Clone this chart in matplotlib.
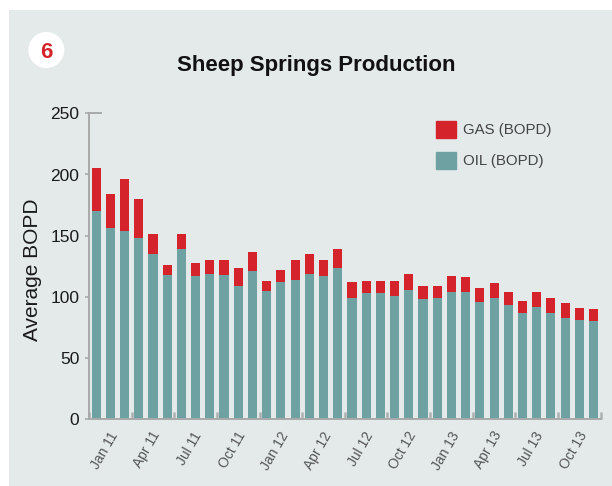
import numpy as np
import matplotlib
matplotlib.use("Agg")
import matplotlib.pyplot as plt
from matplotlib.patches import Rectangle, Ellipse, Patch
from matplotlib.lines import Line2D

plt.rcParams["font.family"] = ["Liberation Sans", "DejaVu Sans"]

# monthly production, Jan 2011 .. Dec 2013
months = [f"{m} {y}" for y in (11, 12, 13) for m in
          ["Jan", "Feb", "Mar", "Apr", "May", "Jun",
           "Jul", "Aug", "Sep", "Oct", "Nov", "Dec"]]
oil = [170, 156, 153.5, 148.5, 135, 117.5, 139.5, 117, 118.5, 117.5, 108.5, 121,
       104.5, 112, 113.5, 118.5, 117, 124, 99, 103, 103, 100.5, 105.5, 98,
       99.5, 104, 104, 95.5, 99, 93, 86.5, 91.5, 86.5, 82.5, 81, 80]
total = [205, 184, 196, 180, 151, 126, 151, 127.5, 130, 130.5, 124, 136.5,
         113, 122, 130, 135, 130.5, 139, 112, 113, 113, 113, 118.5, 108.5,
         108.5, 117, 116, 107, 111, 104, 97, 104, 99, 95, 91, 90]
gas = [t - o for t, o in zip(total, oil)]
quarter_labels = months[::3]

RED = "#d4232b"
TEAL = "#6ea2a2"
BG = "#e4eaea"
AXIS = "#a8aaaa"

W, H = 612, 486
fig = plt.figure(figsize=(W / 100, H / 100), dpi=100, facecolor="white")
fig.patches.append(Rectangle((9 / W, 0), 1, (H - 10) / H, transform=fig.transFigure,
                             facecolor=BG, edgecolor="none", zorder=-10))

ax = fig.add_axes([89 / W, (H - 419.3) / H, (600.7 - 89) / W, (419.3 - 113.3) / H])
ax.set_facecolor("none")

x = np.arange(len(months))
ax.bar(x, oil, width=0.64, color=TEAL, label="OIL (BOPD)", zorder=2)
ax.bar(x, gas, width=0.64, bottom=oil, color=RED, label="GAS (BOPD)", zorder=2)

ax.set_xlim(-0.5, len(months) - 0.5)
ax.set_ylim(0, 250)

for side in ("top", "right"):
    ax.spines[side].set_visible(False)
for side in ("left", "bottom"):
    ax.spines[side].set_color(AXIS)
    ax.spines[side].set_linewidth(1.4)
# little cap at the top of the y axis
ax.add_line(Line2D([0, 12 / 511.7], [1, 1], transform=ax.transAxes, color=AXIS,
                   lw=1.4, clip_on=False))

ax.set_yticks([0, 50, 100, 150, 200, 250])
ax.tick_params(axis="y", direction="out", length=3, width=1.2, color=AXIS,
               labelsize=12.5, labelcolor="#1a1a1a", pad=4)

ax.set_xticks(np.arange(-0.5, len(months), 3), minor=True)
ax.tick_params(axis="x", which="minor", direction="in", length=5, width=1.8,
               color="#aeb0b0")
ax.set_xticks(x[::3] + 0.6)
ax.set_xticklabels(quarter_labels, rotation=60, ha="center", fontsize=10,
                   color="#555555")
ax.tick_params(axis="x", which="major", length=0, pad=7)

fig.text(33 / W, (H - 270) / H, "Average BOPD", rotation=90, ha="center",
         va="center", fontsize=15, color="#1a1a1a")
fig.text(316 / W, (H - 71) / H, "Sheep Springs Production", ha="center",
         va="baseline", fontsize=16, fontweight="bold", color="#111111")

fig.patches.append(Ellipse((46.3 / W, (H - 50) / H), 36 / W, 36 / H,
                           transform=fig.transFigure, facecolor="white",
                           edgecolor="none"))
fig.text(46.3 / W, (H - 50) / H, "6", ha="center", va="center_baseline",
         fontsize=16, fontweight="bold", color=RED)

handles = [Patch(color=RED, label="GAS (BOPD)"), Patch(color=TEAL, label="OIL (BOPD)")]
ax.legend(handles=handles, loc="upper left", bbox_to_anchor=(436 / W, (H - 121) / H),
          bbox_transform=fig.transFigure, frameon=False, fontsize=10.8,
          handlelength=1.33, handleheight=1.33, handletextpad=0.45,
          labelspacing=0.95, borderpad=0, borderaxespad=0, labelcolor="#444444")

fig.savefig("out.png", dpi=100, facecolor=fig.get_facecolor())
